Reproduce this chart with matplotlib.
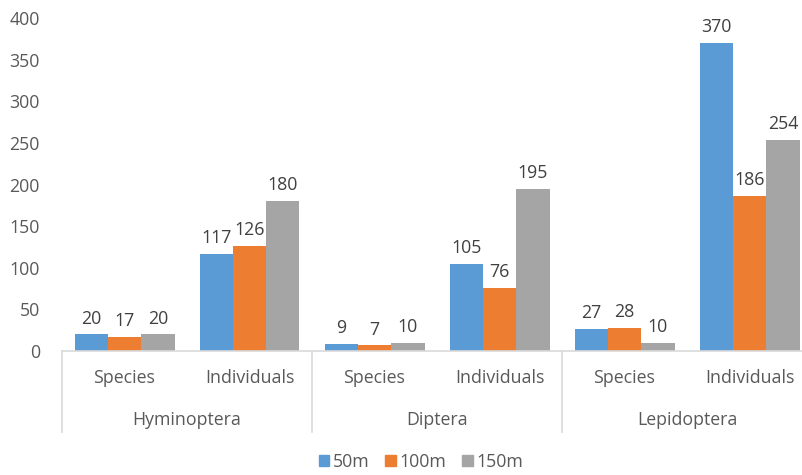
import matplotlib
matplotlib.use("Agg")
import matplotlib.pyplot as plt
import numpy as np
from matplotlib.transforms import blended_transform_factory
from matplotlib.patches import Patch

groups = ["Hyminoptera", "Diptera", "Lepidoptera"]
subcats = ["Species", "Individuals"]
series_names = ["50m", "100m", "150m"]
v50 = [20, 117, 9, 105, 27, 370]
v100 = [17, 126, 7, 76, 28, 186]
v150 = [20, 180, 10, 195, 10, 254]
colors = ["#5B9BD5", "#ED7D31", "#A5A5A5"]
yticks = [0, 50, 100, 150, 200, 250, 300, 350, 400]

plt.rcParams['font.family'] = ['Open Sans', 'DejaVu Sans']
fig = plt.figure(figsize=(8.02, 4.75), dpi=100)
W, H = 802, 475
ax = fig.add_axes([62 / W, (H - 351) / H, 750 / W, 333 / H])

FS = 12.8
n = len(v50)
x = np.arange(n)
bw = 0.8 / 3
for i, (vals, c) in enumerate(zip([v50, v100, v150], colors)):
    bars = ax.bar(x + (i - 1) * bw, vals, bw, color=c, label=series_names[i])
    for b, v in zip(bars, vals):
        ax.text(b.get_x() + b.get_width() / 2, v + 8, str(v), ha="center", va="bottom",
                fontsize=FS, color="#404040")

ax.set_xlim(-0.5, n - 0.5)
ax.set_ylim(0, 400)
ax.set_yticks(yticks)
ax.tick_params(axis="y", length=0, labelsize=FS, labelcolor="#595959", pad=16)
ax.set_xticks([])
for s in ["left", "right", "top"]:
    ax.spines[s].set_visible(False)
ax.spines["bottom"].set_color("#D9D9D9")
ax.spines["bottom"].set_linewidth(1.2)

tr = blended_transform_factory(ax.transData, ax.transAxes)
px = 1 / 333
for xs in [-0.5, 1.5, 3.5, 5.5]:
    ax.plot([xs, xs], [0, -81 * px], transform=tr, clip_on=False, color="#D9D9D9", lw=1.2)

for i in range(n):
    ax.text(i, -27 * px, subcats[i % 2], transform=tr, ha="center", va="center",
            fontsize=FS, color="#595959")
for g, name in enumerate(groups):
    ax.text(2 * g + 0.5, -69 * px, name, transform=tr, ha="center", va="center",
            fontsize=FS, color="#595959")

handles = [Patch(color=c, label=l) for c, l in zip(colors, series_names)]
fig.legend(handles=handles, loc="center", bbox_to_anchor=(421 / W, 1 - 462 / H), ncol=3,
           frameon=False, fontsize=FS, labelcolor="#595959", handlelength=0.6,
           handleheight=0.6, handletextpad=0.2, columnspacing=0.9)

fig.savefig("out.png", dpi=100)
